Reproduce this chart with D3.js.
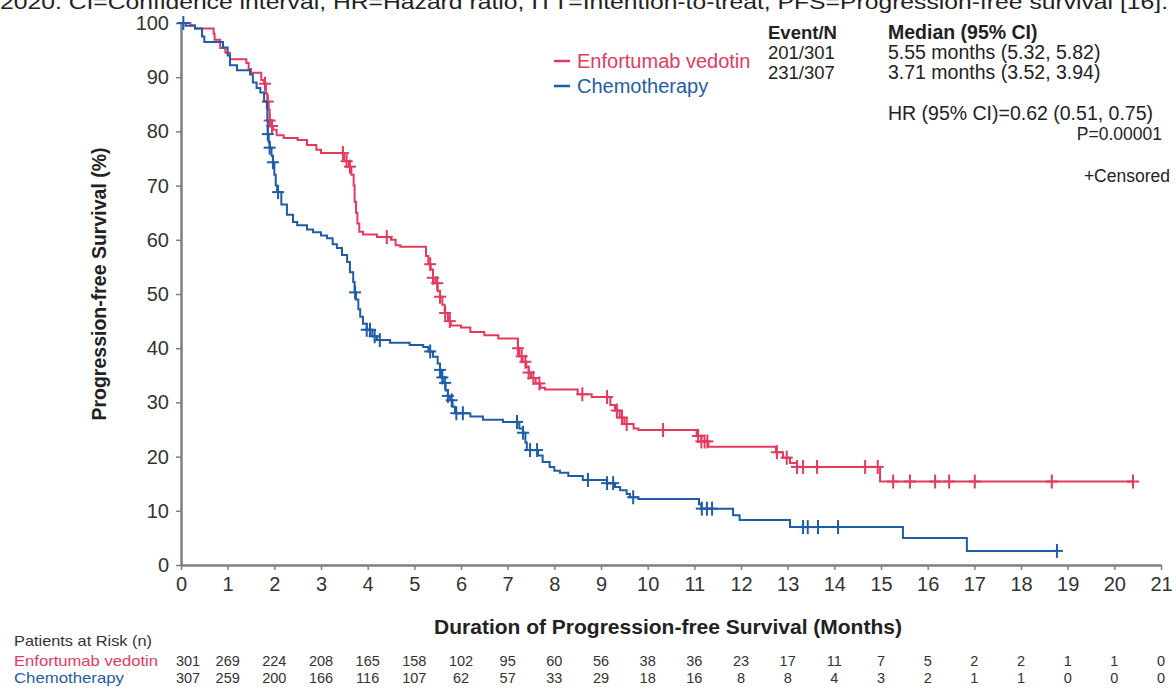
<!DOCTYPE html>
<html>
<head>
<meta charset="utf-8">
<script src="https://cdn.jsdelivr.net/npm/d3@7"></script>
<style>
  html, body { margin: 0; padding: 0; background: #fff; }
  svg { display: block; font-family: "Liberation Sans", Arial, sans-serif; }
</style>
</head>
<body>
<svg id="chart" width="1176" height="688"></svg>
<script>
// ---------- DATA ----------
const caption = "2020. CI=Confidence interval, HR=Hazard ratio, ITT=Intention-to-treat, PFS=Progression-free survival [16].";
const seriesNames = ["Enfortumab vedotin", "Chemotherapy"];
const eventN = ["201/301", "231/307"];
const medians = ["5.55 months (5.32, 5.82)", "3.71 months (3.52, 3.94)"];
const hrText = "HR (95% CI)=0.62 (0.51, 0.75)";
const pText = "P=0.00001";
const xTicks = d3.range(0, 22);
const yTicks = d3.range(0, 101, 10);

// Kaplan-Meier steps: [month, survival %]
const evCurve = [[0,100],[0.2,99.6],[0.3,99.0],[0.7,98.0],[0.72,96.9],[0.84,95.4],[0.95,94.5],[1.05,93.3],
  [1.4,92.6],[1.45,91.5],[1.5,90.8],[1.72,89.5],[1.78,88.8],[1.82,87],[1.85,85.5],[1.88,84],[1.9,82],
  [1.93,81],[1.97,80.3],[2.05,79.3],[2.2,78.8],[2.5,78.4],[2.7,77.5],[2.9,76.6],[3.0,76],[3.5,74.5],
  [3.6,73.5],[3.65,72],[3.7,70],[3.72,67],[3.75,65],[3.78,63],[3.82,61.5],[3.9,61],[4.2,60.5],[4.5,60],
  [4.6,59],[4.7,58.7],[5.25,57],[5.3,55.5],[5.35,54.5],[5.4,53],[5.45,52],[5.5,50.5],[5.55,49.5],
  [5.6,48],[5.65,46.5],[5.72,45],[5.78,44.2],[6.0,43.8],[6.2,43],[6.5,42.4],[6.8,41.8],[7.22,40],
  [7.25,38.5],[7.32,37.5],[7.4,36.5],[7.45,35.5],[7.5,34.5],[7.6,33.5],[7.7,32.7],[7.8,32.4],[8.5,31.5],
  [8.8,31],[9.2,29.5],[9.3,28.5],[9.4,27.2],[9.5,26],[9.7,25.2],[9.8,24.9],[11.05,23.8],[11.15,22.8],
  [11.3,21.8],[12.75,20.8],[12.9,19.8],[13.05,18.8],[13.2,18.1],[14.98,15.4]];
const evEnd = 20.4;
const evCensored = [1.8,1.86,1.9,1.95,3.47,3.55,3.62,4.41,5.34,5.4,5.49,5.55,5.66,5.76,7.22,7.3,7.38,
  7.45,7.55,7.68,8.6,9.13,9.34,9.45,9.55,10.33,11.08,11.15,11.22,11.28,12.77,12.98,13.2,13.33,13.63,
  14.66,14.93,15.26,15.62,16.16,16.46,17.01,18.66,20.4];

const chCurve = [[0,100],[0.1,99.5],[0.3,99],[0.45,97.5],[0.5,96.5],[0.9,95.5],[1.0,94],[1.05,92.2],
  [1.2,91.3],[1.48,90.5],[1.54,89],[1.62,88],[1.7,87.2],[1.78,85.5],[1.84,84.3],[1.85,82],[1.86,79.5],
  [1.88,78],[1.9,77],[1.94,75.5],[1.97,74.3],[2.0,72],[2.03,70],[2.06,68.8],[2.15,66.5],[2.27,64.6],
  [2.4,63.3],[2.49,62.7],[2.7,61.9],[2.83,61.4],[3.0,60.8],[3.13,60.3],[3.25,59.2],[3.34,58.5],
  [3.45,57.2],[3.56,55.9],[3.62,54],[3.69,52.2],[3.72,50.3],[3.75,49],[3.8,47.2],[3.84,45.8],[3.9,44.5],
  [3.98,43.4],[4.1,42.2],[4.2,41.5],[4.48,41],[4.9,40.6],[5.19,40.2],[5.3,39.4],[5.4,38.4],[5.5,37.2],
  [5.55,36],[5.58,34.6],[5.61,33.6],[5.67,32.2],[5.72,31.2],[5.76,30.4],[5.82,29.2],[5.87,28],[6.2,27.4],
  [6.47,26.8],[6.9,26.4],[7.25,25.2],[7.33,24.4],[7.38,22.6],[7.41,21.2],[7.65,20.2],[7.75,19],[7.9,18.1],
  [8.0,17.4],[8.12,17],[8.3,16.4],[8.61,15.7],[9.13,15.1],[9.3,14.4],[9.41,13.8],[9.55,13.1],[9.62,12.5],
  [9.8,12.2],[11.1,11.2],[11.15,10.4],[11.83,9.2],[11.97,8.3],[13.05,7.0],[15.47,5.0],[16.84,2.6]];
const chEnd = 18.77;
const chCensored = [0.05,1.86,1.9,1.97,2.08,3.73,3.98,4.05,4.15,4.26,5.34,5.55,5.6,5.66,5.72,5.8,5.9,
  6.04,7.2,7.33,7.48,7.63,8.72,9.13,9.26,9.69,11.16,11.27,11.38,13.33,13.43,13.65,14.08,18.77];

const evRisk = [301,269,224,208,165,158,102,95,60,56,38,36,23,17,11,7,5,2,2,1,1,0];
const chRisk = [307,259,200,166,116,107,62,57,33,29,18,16,8,8,4,3,2,1,1,0,0,0];

// ---------- STYLE ----------
const RED = "#e43a5e", BLUE = "#1f5ca8", AXIS = "#7f7f7f", TXT = "#222";
const svg = d3.select("#chart");

const x = d3.scaleLinear().domain([0, 21]).range([181, 1161]);
const y = d3.scaleLinear().domain([0, 100]).range([565, 23]);

// caption (cut at top)
svg.append("text").attr("x", 0).attr("y", 8.5).attr("font-size", 20).attr("fill", TXT)
  .attr("textLength", 1168).attr("lengthAdjust", "spacingAndGlyphs").text(caption);

// axes
const xAxis = svg.append("g").attr("transform", `translate(0,${y(0)})`)
  .call(d3.axisBottom(x).tickValues(xTicks).tickSize(5).tickSizeOuter(0).tickPadding(7));
const yAxis = svg.append("g").attr("transform", `translate(${x(0)},0)`)
  .call(d3.axisLeft(y).tickValues(yTicks).tickSize(5).tickSizeOuter(0).tickPadding(7));
[xAxis, yAxis].forEach(g => {
  g.select(".domain").attr("stroke", AXIS).attr("stroke-width", 2.5);
  g.selectAll(".tick line").attr("stroke", AXIS).attr("stroke-width", 1.5);
  g.selectAll(".tick text").attr("font-size", 20).attr("fill", "#333")
    .attr("font-family", "'Liberation Sans', Arial, sans-serif");
});

// axis titles
svg.append("text").attr("x", 668).attr("y", 634).attr("text-anchor", "middle")
  .attr("font-size", 21).attr("font-weight", "bold").attr("fill", TXT)
  .text("Duration of Progression-free Survival (Months)");
svg.append("text").attr("transform", `translate(106,284) rotate(-90)`).attr("text-anchor", "middle")
  .attr("font-size", 19.5).attr("font-weight", "bold").attr("fill", TXT)
  .text("Progression-free Survival (%)");

// curves
function stepValue(curve, t) {
  let v = curve[0][1];
  for (const [ti, si] of curve) { if (ti <= t) v = si; else break; }
  return v;
}
const line = d3.line().x(d => x(d[0])).y(d => y(d[1])).curve(d3.curveStepAfter);
const series = [
  {curve: evCurve, end: evEnd, cens: evCensored, color: RED},
  {curve: chCurve, end: chEnd, cens: chCensored, color: BLUE}
];
series.forEach(s => {
  const pts = s.curve.concat([[s.end, s.curve[s.curve.length - 1][1]]]);
  svg.append("path").datum(pts).attr("d", line).attr("fill", "none")
    .attr("stroke", s.color).attr("stroke-width", 2);
  const g = svg.append("g").attr("stroke", s.color).attr("stroke-width", 2);
  s.cens.forEach(t => {
    const cx = x(t), cy = y(stepValue(s.curve, t));
    g.append("line").attr("x1", cx - 6).attr("x2", cx + 6).attr("y1", cy).attr("y2", cy);
    g.append("line").attr("x1", cx).attr("x2", cx).attr("y1", cy - 7).attr("y2", cy + 7);
  });
});

// legend
[RED, BLUE].forEach((c, i) => {
  const ly = 61 + i * 25;
  svg.append("line").attr("x1", 554).attr("x2", 570).attr("y1", ly).attr("y2", ly)
    .attr("stroke", c).attr("stroke-width", 2.5);
  svg.append("text").attr("x", 577).attr("y", ly + 7).attr("font-size", 20).attr("fill", c)
    .text(seriesNames[i]);
});

// stats block
svg.append("text").attr("x", 768).attr("y", 39).attr("font-size", 18.5).attr("font-weight", "bold")
  .attr("fill", TXT).text("Event/N");
svg.append("text").attr("x", 888).attr("y", 39).attr("font-size", 19.5).attr("font-weight", "bold")
  .attr("fill", TXT).text("Median (95% CI)");
eventN.forEach((e, i) => {
  svg.append("text").attr("x", 768).attr("y", 59 + i * 20).attr("font-size", 18.5).attr("fill", TXT).text(e);
  svg.append("text").attr("x", 888).attr("y", 59 + i * 20).attr("font-size", 19.5).attr("fill", TXT).text(medians[i]);
});
svg.append("text").attr("x", 888).attr("y", 120).attr("font-size", 19.5).attr("fill", TXT).text(hrText);
svg.append("text").attr("x", 1162).attr("y", 140).attr("text-anchor", "end").attr("font-size", 17.5)
  .attr("fill", TXT).text(pText);
svg.append("text").attr("x", 1170).attr("y", 182).attr("text-anchor", "end").attr("font-size", 17.5)
  .attr("fill", TXT).text("+Censored");

// risk table
svg.append("text").attr("x", 14).attr("y", 646).attr("font-size", 15).attr("fill", "#333")
  .attr("textLength", 138).attr("lengthAdjust", "spacingAndGlyphs").text("Patients at Risk (n)");
[[evRisk, RED, 666, 144], [chRisk, BLUE, 683, 110]].forEach(([arr, c, ry, tl], i) => {
  svg.append("text").attr("x", 14).attr("y", ry).attr("font-size", 15).attr("fill", c)
    .attr("textLength", tl).attr("lengthAdjust", "spacingAndGlyphs").text(seriesNames[i]);
  svg.append("g").selectAll("text").data(arr).join("text")
    .attr("x", (d, j) => x(j) + (j === 0 ? 7 : 0)).attr("y", ry).attr("text-anchor", "middle")
    .attr("font-size", 14.5).attr("fill", "#333").text(d => d);
});
</script>
</body>
</html>
